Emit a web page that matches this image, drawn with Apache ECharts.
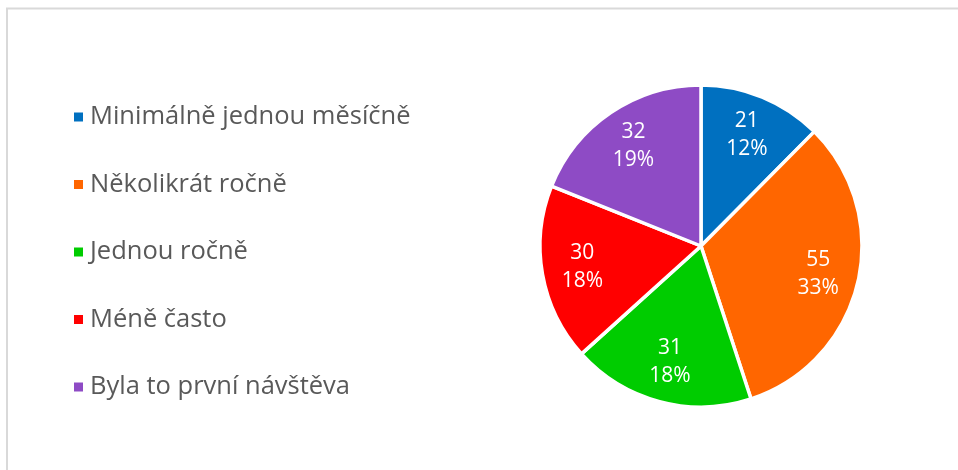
<!DOCTYPE html>
<html>
<head>
<meta charset="utf-8">
<script src="https://cdn.jsdelivr.net/npm/echarts@6/dist/echarts.min.js"></script>
<style>
  html, body { margin: 0; padding: 0; background: #fff; }
  #chart { width: 958px; height: 470px; }
</style>
</head>
<body>
<div id="chart"></div>
<script>
// data
const categories = ['Minimálně jednou měsíčně', 'Několikrát ročně', 'Jednou ročně', 'Méně často', 'Byla to první návštěva']
const counts = [21, 55, 31, 30, 32]
const colors = ['#0070C0', '#FF6600', '#00CC00', '#FF0000', '#8E4BC5']

const pieData = categories.map((name, i) => ({
  name: name,
  value: counts[i],
  itemStyle: { color: colors[i] }
}))

const chart = echarts.init(document.getElementById('chart'), null, { renderer: 'canvas' })

const center = [701, 246]
const radius = 161

chart.setOption({
  backgroundColor: '#fff',
  animation: false,
  graphic: [
    {
      type: 'polyline',
      shape: { points: [[7, 470], [7, 8.5], [958, 8.5]] },
      style: { stroke: '#D9D9D9', lineWidth: 2, fill: null },
      silent: true
    }
  ],
  legend: {
    orient: 'vertical',
    left: 67,
    top: 97,
    icon: 'rect',
    itemWidth: 11,
    itemHeight: 11,
    itemGap: 37.5,
    data: categories,
    textStyle: {
      fontFamily: 'Open Sans',
      fontSize: 25.5,
      color: '#595959',
      lineHeight: 30,
      padding: [0, 0, 0, 1]
    }
  },
  series: [
    {
      // the visible slices
      name: 'slices',
      type: 'pie',
      center: center,
      radius: [0, radius],
      startAngle: 90,
      clockwise: true,
      data: pieData,
      itemStyle: { borderColor: '#fff', borderWidth: 3.5 },
      label: { show: false },
      labelLine: { show: false },
      emphasis: { disabled: true }
    },
    {
      // transparent ring, only used to push the labels outward
      name: 'labels',
      type: 'pie',
      center: center,
      radius: [radius * 0.46, radius],
      startAngle: 90,
      clockwise: true,
      percentPrecision: 0,
      silent: true,
      data: categories.map((name, i) => ({ name: name, value: counts[i] })),
      itemStyle: { color: 'rgba(0,0,0,0)', borderWidth: 0 },
      label: {
        show: true,
        position: 'inside',
        formatter: '{c}\n{d}%',
        color: '#fff',
        fontFamily: 'Open Sans',
        fontSize: 21,
        lineHeight: 28
      },
      labelLine: { show: false },
      emphasis: { disabled: true }
    }
  ]
})
</script>
</body>
</html>
